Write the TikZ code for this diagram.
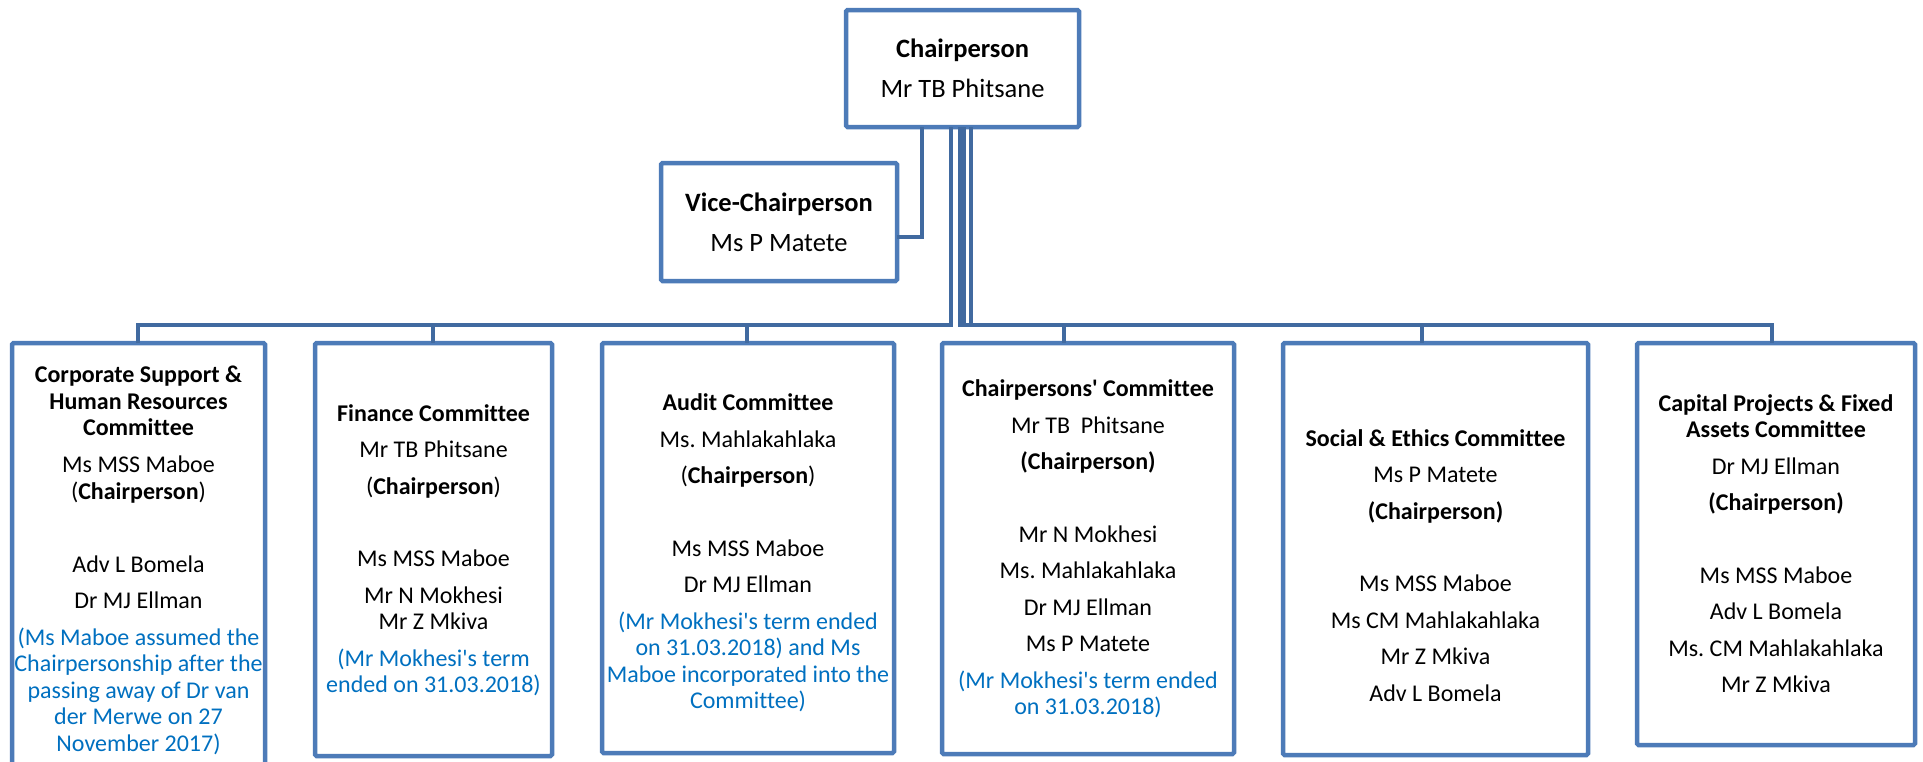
\documentclass[tikz,border=0pt]{standalone}
\usepackage{fontspec}
\setmainfont{Carlito}[Ligatures={TeXOff,NoCommon}]
\usetikzlibrary{calc}
\definecolor{boxblue}{RGB}{77,123,184}
\definecolor{linkblue}{RGB}{65,106,160}
\definecolor{noteblue}{RGB}{0,112,192}
\newcommand{\nb}[1]{\textcolor{noteblue}{#1}}
\frenchspacing
\begin{document}
\begin{tikzpicture}[x=1pt,y=-1pt,
  box/.style={draw=boxblue, line width=4.5pt, rounded corners=1.5pt, fill=white, outer sep=0pt, inner sep=0pt},
  conn/.style={draw=linkblue, line width=4.5pt},
  txt/.style={align=center, inner sep=0pt, font=\fontsize{24}{26.5}\selectfont},
  toptxt/.style={align=center, font=\fontsize{26.5}{40}\selectfont}]
\useasboundingbox (0,0) rectangle (1923,761);
\clip (0,0) rectangle (1923,761);

% top boxes
\node[box, toptxt, minimum width=233pt, minimum height=117pt] (chair) at (962.5,68.5) {\textbf{Chairperson}\\Mr TB Phitsane};
\node[box, toptxt, minimum width=236pt, minimum height=118pt] (vice) at (779,222) {\textbf{Vice-Chairperson}\\Ms P Matete};

% committee boxes
\node[box, minimum width=253pt, minimum height=460pt] (c1) at (138.5,573) {};
\node[box, minimum width=237pt, minimum height=413pt] (c2) at (433.5,549.5) {};
\node[box, minimum width=292pt, minimum height=410pt] (c3) at (748,548) {};
\node[box, minimum width=292pt, minimum height=411pt] (c4) at (1088,548.5) {};
\node[box, minimum width=305pt, minimum height=412pt] (c5) at (1435.5,549) {};
\node[box, minimum width=278pt, minimum height=402pt] (c6) at (1776,544) {};

% connectors
\coordinate (bus) at (0,325);
\coordinate (k1) at ([xshift=-0.5pt]c1.north);
\coordinate (k2) at ([xshift=-0.5pt]c2.north);
\coordinate (k3) at ([xshift=-1pt]c3.north);
\coordinate (k4) at ([xshift=-24pt]c4.north);
\coordinate (k5) at ([xshift=-13.5pt]c5.north);
\coordinate (k6) at ([xshift=-4pt]c6.north);
\draw[conn] ([xshift=-40.5pt]chair.south) |- ([yshift=-15pt]vice.east);
\draw[conn] ([xshift=-11.5pt]chair.south) |- (bus -| k1) -- (k1);
\draw[conn] ([xshift=-11.5pt]chair.south) |- (bus -| k2) -- (k2);
\draw[conn] ([xshift=-11.5pt]chair.south) |- (bus -| k3) -- (k3);
\draw[conn] ([xshift=-2.5pt]chair.south) |- (bus -| k4) -- (k4);
\draw[conn] ([xshift=1.5pt]chair.south) |- (bus -| k5) -- (k5);
\draw[conn] ([xshift=8.5pt]chair.south) |- (bus -| k6) -- (k6);

% committee texts
\node[txt, anchor=north] (t1) at (138.5,364.1) {\strut\textbf{Corporate Support \&}\\\textbf{Human Resources}\\\textbf{Committee}\\[10pt]
Ms MSS Maboe\\[1pt](\textbf{Chairperson})\\[46pt]Adv L Bomela\\[10pt]Dr MJ Ellman\\[10pt]
\nb{(Ms Maboe assumed the}\\\nb{Chairpersonship after the}\\\nb{passing away of Dr van}\\\nb{der Merwe on 27}\\\nb{November 2017)}};

\node[txt, anchor=north] (t2) at (433.5,402.4) {\strut\textbf{Finance Committee}\\[10pt]Mr TB Phitsane\\[10pt](\textbf{Chairperson})\\[46pt]
Ms MSS Maboe\\[10pt]Mr N Mokhesi\\Mr Z Mkiva\\[10pt]\nb{(Mr Mokhesi's term}\\\nb{ended on 31.03.2018)}};

\node[txt, anchor=north] (t3) at (748,391.8) {\strut\textbf{Audit Committee}\\[10pt]Ms. Mahlakahlaka\\[10pt](\textbf{Chairperson})\\[46pt]
Ms MSS Maboe\\[10pt]Dr MJ Ellman\\[10pt]\nb{(Mr Mokhesi's term ended}\\\nb{on 31.03.2018) and Ms}\\\nb{Maboe incorporated into the}\\\nb{Committee)}};

\node[txt, anchor=north] (t4) at (1088,378.1) {\strut\textbf{Chairpersons' Committee}\\[10pt]Mr TB\ \ Phitsane\\[10pt]\textbf{(Chairperson)}\\[46pt]
Mr N Mokhesi\\[10pt]Ms. Mahlakahlaka\\[10pt]Dr MJ Ellman\\[10pt]Ms P Matete\\[10pt]\nb{(Mr Mokhesi's term ended}\\\nb{on 31.03.2018)}};

\node[txt, anchor=north] (t5) at (1435.5,427.4) {\strut\textbf{Social \& Ethics Committee}\\[10pt]Ms P Matete\\[10pt]\textbf{(Chairperson)}\\[46pt]
Ms MSS Maboe\\[10pt]Ms CM Mahlakahlaka\\[10pt]Mr Z Mkiva\\[10pt]Adv L Bomela};

\node[txt, anchor=north] (t6) at (1776,392.4) {\strut\textbf{Capital Projects \& Fixed}\\\textbf{Assets Committee}\\[10pt]Dr MJ Ellman\\[10pt]\textbf{(Chairperson)}\\[46pt]
Ms MSS Maboe\\[10pt]Adv L Bomela\\[10pt]Ms. CM Mahlakahlaka\\[10pt]Mr Z Mkiva};
\end{tikzpicture}
\end{document}
